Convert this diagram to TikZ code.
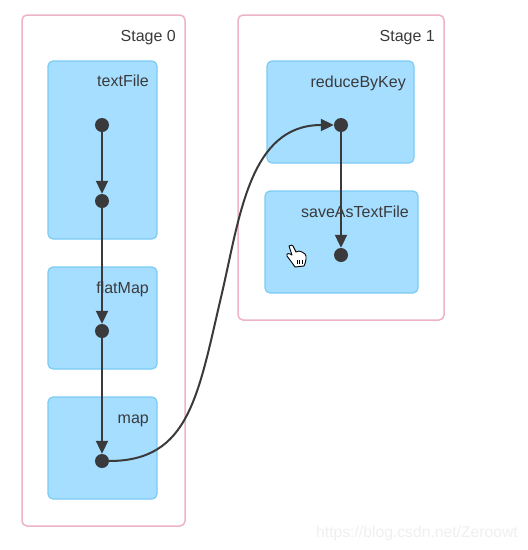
\documentclass[tikz,border=0pt]{standalone}
\usepackage{fontspec}
\setmainfont{Liberation Sans}
\usetikzlibrary{arrows.meta}
\definecolor{stagepink}{HTML}{EDB4C6}
\definecolor{opfill}{HTML}{A6DEFF}
\definecolor{opline}{HTML}{7CCBF5}
\definecolor{ink}{HTML}{3A3A3C}
\tikzset{
  stagebox/.style={draw=stagepink,line width=1.5pt,rounded corners=5pt,fill=white},
  opbox/.style={draw=opline,line width=1.2pt,rounded corners=5pt,fill=opfill},
  lab/.style={anchor=base east,inner sep=0pt,font=\fontsize{16}{18}\selectfont,text=ink},
  dot/.style={circle,fill=ink,draw=none,minimum size=14pt,inner sep=0pt},
  flow/.style={draw=ink,line width=2pt,-{Triangle[length=13pt,width=12pt]}}
}
\begin{document}
\begin{tikzpicture}[x=1pt,y=-1pt]
\useasboundingbox (0,0) rectangle (528,550);
\fill[white] (0,0) rectangle (528,550);
\draw[stagebox] (22,15) rectangle (185,526);
\draw[stagebox] (238,15) rectangle (444,320);
\draw[opbox] (48,61) rectangle (157,239);
\draw[opbox] (48,267) rectangle (157,369);
\draw[opbox] (48,397) rectangle (157,499);
\draw[opbox] (267,61) rectangle (414,163);
\draw[opbox] (265,191) rectangle (418,293);
\node[lab] (s0) at (176,41) {Stage 0};
\node[lab] (s1) at (435,41) {Stage 1};
\node[lab] (t1) at (149,86) {textFile};
\node[lab] (t2) at (149,293) {flatMap};
\node[lab] (t3) at (149,423) {map};
\node[lab] (t4) at (406,87) {reduceByKey};
\node[lab] (t5) at (409,217) {saveAsTextFile};
\node[dot] (a) at (102,125) {};
\node[dot] (b) at (102,201) {};
\node[dot] (c) at (102,331) {};
\node[dot] (d) at (102,461) {};
\node[dot] (e) at (341,125) {};
\node[dot] (f) at (341,255) {};
\draw[flow] (a) -- (b);
\draw[flow] (b) -- (c);
\draw[flow] (c) -- (d);
\draw[flow] (e) -- (f);
\coordinate (mid) at (222,293);
\draw[flow] (d.east) .. controls (190,461) and (198,395) .. (mid) .. controls (240,215) and (250,125) .. (e.west);
% pointer hand
\begin{scope}[shift={(297,256)}]
\draw[fill=white,draw=black,line width=0.9pt,line join=round]
 (-8,-10) .. controls (-6,-12) and (-4,-11) .. (-3,-8)
 -- (-1,-4) -- (2,-5) -- (5,-4) -- (8,-2)
 .. controls (10,0) and (9,6) .. (7,10)
 -- (-2,11) .. controls (-4,8) and (-7,4) .. (-10,0)
 .. controls (-11,-3) and (-8,-3) .. (-5,-1)
 -- (-8,-10) -- cycle;
\draw[black,line width=0.6pt] (0,4) -- (0,8) (2.5,4) -- (2.5,8) (5,4) -- (5,8);
\end{scope}
\node[anchor=base east,inner sep=0pt,font=\fontsize{15.7}{18}\selectfont,text=black!6] (wm) at (518,537) {https://blog.csdn.net/Zeroowt};
\end{tikzpicture}
\end{document}
